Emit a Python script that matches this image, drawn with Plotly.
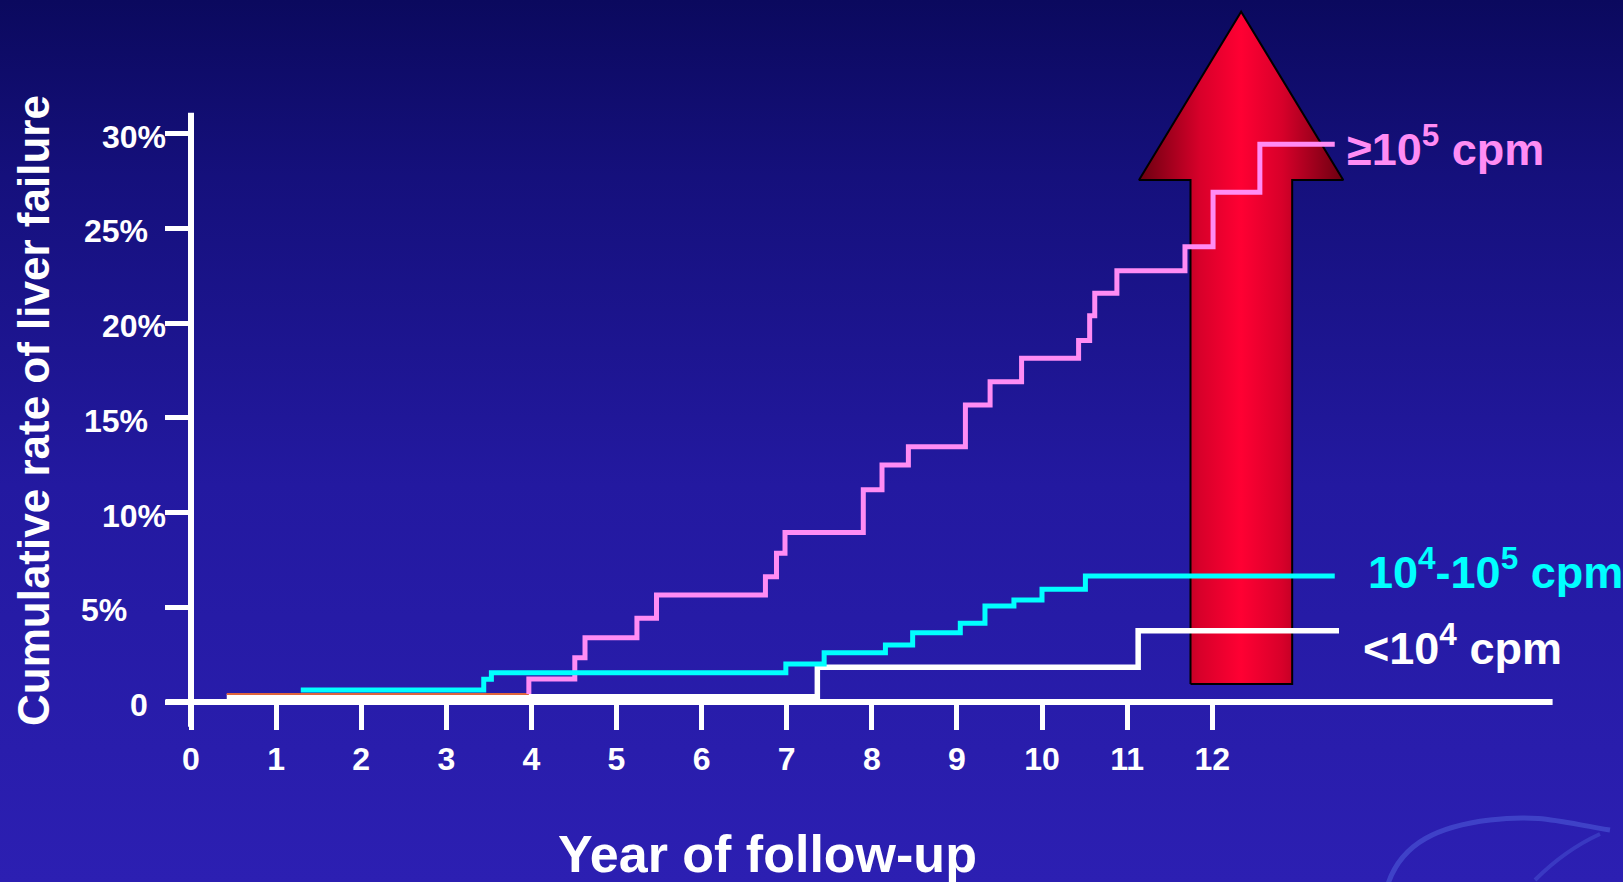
import plotly.graph_objects as go

# ---------------------------------------------------------------- data
year_ticks = list(range(13))
year_tick_labels = [str(v) for v in year_ticks]
rate_ticks = [0, 5, 10, 15, 20, 25, 30]
rate_tick_labels = ["0", "5%", "10%", "15%", "20%", "25%", "30%"]

# HBV DNA >= 10^5 cpm: start point, event years, cumulative rate (%) after each event
high_start_year, high_start_rate = 3.97, 0.42
high_event_years = [3.97, 4.51, 4.63, 5.24, 5.47, 6.75, 6.88, 6.98, 7.90, 8.12, 8.43,
                    9.10, 9.39, 9.76, 10.43, 10.56, 10.62, 10.88, 11.68, 12.01, 12.56]
high_event_rates = [1.21, 2.34, 3.39, 4.42, 5.65, 6.61, 7.85, 8.95, 11.20, 12.50, 13.47,
                    15.67, 16.90, 18.14, 19.07, 20.38, 21.57, 22.76, 24.03, 26.90, 29.43]
high_end_year = 13.44

# HBV DNA 10^4 - 10^5 cpm
mid_start_year, mid_start_rate = 1.29, 0.63
mid_event_years = [3.44, 3.53, 6.99, 7.44, 8.16, 8.48, 9.04, 9.33, 9.67, 10.00, 10.51]
mid_event_rates = [1.20, 1.55, 2.00, 2.60, 3.01, 3.66, 4.15, 5.07, 5.38, 5.95, 6.65]
mid_end_year = 13.44

# HBV DNA < 10^4 cpm
low_start_year, low_start_rate = 0.42, 0.28
low_event_years = [7.36, 11.13]
low_event_rates = [1.83, 3.76]
low_end_year = 13.49

# thin baseline trace at the start of the follow-up
base_years = [0.42, 3.97]
base_rates = [0.42, 0.42]

# ---------------------------------------------------------------- layout constants
W, H = 1623, 882
ORIGIN_X, ORIGIN_Y = 191, 702          # pixel position of (0 years, 0 %)
PX_PER_YEAR, PX_PER_PCT = 85.1, 18.95

x_range = [-ORIGIN_X / PX_PER_YEAR, (W - ORIGIN_X) / PX_PER_YEAR]
y_range = [-(H - ORIGIN_Y) / PX_PER_PCT, ORIGIN_Y / PX_PER_PCT]

FONT = "Liberation Sans, Arial, sans-serif"

PINK, CYAN, WHITE, ORANGE = "#ff8cf4", "#00ffff", "#ffffff", "#e0643c"


def step_xy(x0, y0, xs, ys, x_end):
    x = [x0] + list(xs) + [x_end]
    y = [y0] + list(ys) + [ys[-1]]
    return x, y


fig = go.Figure()

# page background: vertical gradient
fig.add_trace(go.Scatter(
    x=[x_range[0], x_range[1], x_range[1], x_range[0], x_range[0]],
    y=[y_range[0], y_range[0], y_range[1], y_range[1], y_range[0]],
    mode="none", fill="toself",
    fillgradient=dict(type="vertical", start=y_range[0], stop=y_range[1],
                      colorscale=[[0, "#2c1fb2"], [0.45, "#2319a0"], [0.8, "#15107c"], [1, "#0b095e"]]),
    hoverinfo="skip", showlegend=False))

# red arrow (decoration)
ax_l, ax_r = 11.745, 12.94
head_l, head_r, tip_x = 11.14, 13.54, 12.34
bottom_y, head_y, tip_y = 0.95, 27.55, 36.43
fig.add_trace(go.Scatter(
    x=[ax_l, ax_r, ax_r, head_r, tip_x, head_l, ax_l, ax_l],
    y=[bottom_y, bottom_y, head_y, head_y, tip_y, head_y, head_y, bottom_y],
    mode="lines", fill="toself", line=dict(color="#000000", width=2),
    fillgradient=dict(type="horizontal", start=head_l, stop=head_r,
                      colorscale=[[0, "#6a0010"], [0.3, "#d8002a"], [0.5, "#ff0033"],
                                  [0.7, "#d8002a"], [1, "#6a0010"]]),
    hoverinfo="skip", showlegend=False))

# survival-type step curves
lx, ly = step_xy(low_start_year, low_start_rate, low_event_years, low_event_rates, low_end_year)
fig.add_trace(go.Scatter(x=lx, y=ly, mode="lines", line=dict(color=WHITE, width=5.5, shape="hv"),
                         showlegend=False))
fig.add_trace(go.Scatter(x=base_years, y=base_rates, mode="lines", line=dict(color=ORANGE, width=2),
                         showlegend=False))
hx, hy = step_xy(high_start_year, high_start_rate, high_event_years, high_event_rates, high_end_year)
fig.add_trace(go.Scatter(x=hx, y=hy, mode="lines", line=dict(color=PINK, width=5, shape="hv"),
                         showlegend=False))
mx, my = step_xy(mid_start_year, mid_start_rate, mid_event_years, mid_event_rates, mid_end_year)
fig.add_trace(go.Scatter(x=mx, y=my, mode="lines", line=dict(color=CYAN, width=5, shape="hv"),
                         showlegend=False))

# axis lines
shapes = [
    dict(type="line", xref="x", yref="y", x0=-0.3, x1=16.0, y0=0, y1=0,
         line=dict(color=WHITE, width=6)),
    dict(type="line", xref="x", yref="y", x0=0, x1=0, y0=-1.3, y1=31.1,
         line=dict(color=WHITE, width=6)),
]


def px_to_paper(px, py):
    return px / W, 1 - py / H


# faint swoosh in the lower-right corner
pts = [(1388, 884), (1402, 842), (1440, 826), (1490, 820), (1560, 822), (1610, 830)]
pp = [px_to_paper(*p) for p in pts]
path = "M {} {} C {} {}, {} {}, {} {} S {} {}, {} {}".format(
    pp[0][0], pp[0][1], pp[1][0], pp[1][1], pp[2][0], pp[2][1], pp[3][0], pp[3][1],
    pp[4][0], pp[4][1], pp[5][0], pp[5][1])
shapes.append(dict(type="path", xref="paper", yref="paper", path=path,
                   line=dict(color="rgba(110,150,255,0.3)", width=5)))
q = [px_to_paper(*p) for p in [(1535, 880), (1565, 850), (1600, 834)]]
shapes.append(dict(type="path", xref="paper", yref="paper",
                   path="M {} {} Q {} {}, {} {}".format(q[0][0], q[0][1], q[1][0], q[1][1], q[2][0], q[2][1]),
                   line=dict(color="rgba(110,150,255,0.22)", width=4)))

annotations = []
# y tick labels (alternating indentation)
label_shift = {0: -41, 5: -62, 10: -23, 15: -41, 20: -23, 25: -41, 30: -23}
for v, t in zip(rate_ticks, rate_tick_labels):
    annotations.append(dict(x=0, y=v, xref="x", yref="y", text=t, showarrow=False,
                            xanchor="right", yanchor="middle", xshift=label_shift[v], yshift=-3,
                            font=dict(family=FONT, size=32, color=WHITE, weight="bold")))

# axis titles
tx, ty = px_to_paper(34, 411)
annotations.append(dict(x=tx, y=ty, xref="paper", yref="paper", text="Cumulative rate of liver failure",
                        textangle=-90, showarrow=False, xanchor="center", yanchor="middle",
                        font=dict(family=FONT, size=44, color=WHITE, weight="bold")))
tx, ty = px_to_paper(767, 854)
annotations.append(dict(x=tx, y=ty, xref="paper", yref="paper", text="Year of follow-up",
                        showarrow=False, xanchor="center", yanchor="middle",
                        font=dict(family=FONT, size=52, color=WHITE, weight="bold")))

# curve labels
annotations.append(dict(x=high_end_year, y=high_event_rates[-1], xref="x", yref="y",
                        text="≥10<sup>5</sup> cpm", showarrow=False, xanchor="left", yanchor="middle",
                        xshift=10, yshift=-2,
                        font=dict(family=FONT, size=45, color=PINK, weight="bold")))
annotations.append(dict(x=mid_end_year, y=mid_event_rates[-1], xref="x", yref="y",
                        text="10<sup>4</sup>-10<sup>5</sup> cpm", showarrow=False, xanchor="left",
                        yanchor="middle", xshift=31, yshift=7,
                        font=dict(family=FONT, size=45, color=CYAN, weight="bold")))
annotations.append(dict(x=low_end_year, y=low_event_rates[-1], xref="x", yref="y",
                        text="<10<sup>4</sup> cpm", showarrow=False, xanchor="left",
                        yanchor="middle", xshift=22, yshift=-14,
                        font=dict(family=FONT, size=45, color=WHITE, weight="bold")))

fig.update_layout(
    width=W, height=H,
    margin=dict(l=0, r=0, t=0, b=0),
    paper_bgcolor="#1d1590", plot_bgcolor="rgba(0,0,0,0)",
    showlegend=False,
    xaxis=dict(range=x_range, domain=[0, 1], anchor="free",
               position=(0 - y_range[0]) / (y_range[1] - y_range[0]),
               showgrid=False, zeroline=False, showline=False,
               ticks="outside", ticklen=27, tickwidth=5, tickcolor=WHITE,
               tickvals=year_ticks, ticktext=year_tick_labels,
               tickfont=dict(family=FONT, size=32, color=WHITE, weight="bold"),
               ticklabelstandoff=2, fixedrange=True),
    yaxis=dict(range=y_range, domain=[0, 1], anchor="free", side="left",
               position=(0 - x_range[0]) / (x_range[1] - x_range[0]),
               showgrid=False, zeroline=False, showline=False,
               ticks="outside", ticklen=26, tickwidth=5, tickcolor=WHITE,
               tickvals=rate_ticks, showticklabels=False, fixedrange=True),
    shapes=shapes,
    annotations=annotations,
)

fig.write_html("out.html")
